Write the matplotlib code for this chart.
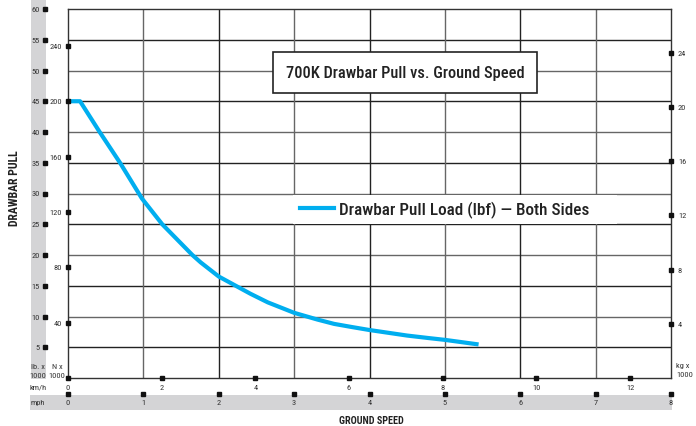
import matplotlib
matplotlib.use('Agg')
import matplotlib.pyplot as plt
import matplotlib.transforms as mtrans

plt.rcParams['font.family'] = ['Roboto Condensed', 'Liberation Sans Narrow', 'Roboto', 'DejaVu Sans']

# curve (mph, lb x 1000)
speed_mph = [0, 0.16, 0.42, 0.69, 0.98, 1.25, 1.65, 1.76, 2.0, 2.42, 2.65, 3.0, 3.31, 3.53, 3.76,
             4.0, 4.5, 4.78, 5.0, 5.42]
pull_klb = [45, 45, 40, 35, 29.2, 25, 20, 18.8, 16.5, 13.7, 12.3, 10.6, 9.5, 8.8, 8.3,
            7.8, 6.9, 6.5, 6.2, 5.5]

lb_ticks = [5, 10, 15, 20, 25, 30, 35, 40, 45, 50, 55, 60]
kn_ticks = [40, 80, 120, 160, 200, 240]
kg_ticks = [4, 8, 12, 16, 20, 24]
kmh_ticks = [2, 4, 6, 8, 10, 12]
mph_ticks = [0, 1, 2, 3, 4, 5, 6, 7, 8]

title = '700K Drawbar Pull vs. Ground Speed'
legend_label = 'Drawbar Pull Load (lbf) \u2014 Both Sides'
blue = '#00AEEF'
W, H = 696, 427

fig = plt.figure(figsize=(W / 100, H / 100), dpi=100)
ax = fig.add_axes([68 / W, 48 / H, 603 / W, 369 / H])
ax.set_xlim(0, 8)
ax.set_ylim(0, 60)

def fx(x):
    return x / W

def fy(y):
    return 1 - y / H

def ax_x(x):
    return (x - 68) / 603

def ax_y(y):
    return (379 - y) / 369

# grey bands behind the tick labels
fig.patches.append(plt.Rectangle((fx(31), fy(380)), fx(15), 380 / H, transform=fig.transFigure,
                                 facecolor='#d4d4d6', edgecolor='none', zorder=0))
fig.patches.append(plt.Rectangle((fx(30), fy(411)), fx(642), 15 / H, transform=fig.transFigure,
                                 facecolor='#d4d4d6', edgecolor='none', zorder=0))

# grid
for i, v in enumerate(range(5, 60, 5)):
    ax.axhline(v, color='#222' if i % 2 == 0 else '#666', lw=1, zorder=1)
for v in range(1, 8):
    ax.axvline(v, color='#222' if v % 2 == 0 else '#666', lw=1, zorder=1)
for s in ax.spines.values():
    s.set_color('#333')
    s.set_linewidth(1)
ax.set_xticks([])
ax.set_yticks([])

ax.plot(speed_mph, pull_klb, color=blue, lw=3, solid_joinstyle='round', zorder=3, label=legend_label)

lab = dict(fontsize=6, color='#333')
tr_ly = mtrans.blended_transform_factory(fig.transFigure, ax.transData)
tr_lx = mtrans.blended_transform_factory(ax.transData, fig.transFigure)

# lb x 1000 axis
for v in lb_ticks:
    fig.text(fx(40), v, str(v), transform=tr_ly, ha='right', va='center', **lab)
    fig.lines.append(plt.Line2D([fx(45)], [v], transform=tr_ly, marker='s', ms=2.2, color='#111'))
# N x 1000 axis
for v in kn_ticks:
    klb = v / 4.448222
    fig.text(fx(62), klb, str(v), transform=tr_ly, ha='right', va='center', **lab)
    ax.plot([0], [klb], marker='s', ms=2.2, color='#111', clip_on=False, zorder=4)
# kg x 1000 axis
for v in kg_ticks:
    klb = v * 2.20462
    fig.text(fx(678), klb, str(v), transform=tr_ly, ha='left', va='center', **lab)
    ax.plot([8], [klb], marker='s', ms=2.2, color='#111', clip_on=False, zorder=4)
# km/h axis
fig.text(fx(68), fy(388), '0', ha='center', va='center', **lab)
ax.plot([0], [0], marker='s', ms=2.2, color='#111', clip_on=False, zorder=4)
for v in kmh_ticks:
    m = v / 1.609344
    fig.text(m, fy(388), str(v), transform=tr_lx, ha='center', va='center', **lab)
    ax.plot([m], [0], marker='s', ms=2.2, color='#111', clip_on=False, zorder=4)
# mph axis
for v in mph_ticks:
    fig.text(v, fy(403), str(v), transform=tr_lx, ha='center', va='center', **lab)
    fig.lines.append(plt.Line2D([v], [fy(395)], transform=tr_lx, marker='s', ms=2.2, color='#111'))

fig.text(fx(38), fy(367), 'lb. x', ha='center', va='center', **lab)
fig.text(fx(38), fy(376), '1000', ha='center', va='center', **lab)
fig.text(fx(57), fy(367), 'N x', ha='center', va='center', **lab)
fig.text(fx(57), fy(376), '1000', ha='center', va='center', **lab)
fig.text(fx(676), fy(366), 'kg x', ha='left', va='center', **lab)
fig.text(fx(676), fy(375), '1000', ha='left', va='center', **lab)
fig.text(fx(38), fy(388), 'km/h', ha='center', va='center', **lab)
fig.text(fx(38), fy(403), 'mph', ha='center', va='center', **lab)

fig.text(fx(15), fy(188), 'DRAWBAR PULL', rotation=90, ha='center', va='center',
         fontsize=8.5, color='#222', fontweight='bold')
fig.text(fx(371), fy(421), 'GROUND SPEED', ha='center', va='center',
         fontsize=7.3, color='#222', fontweight='bold')

ax.text(ax_x(405), ax_y(73.5), title, transform=ax.transAxes, ha='center', va='center',
        fontsize=11.8, color='#222', zorder=5, fontweight='medium',
        bbox=dict(boxstyle='square,pad=0.8', facecolor='white', edgecolor='#222', lw=1.2))

# white strip behind the legend
ax.add_patch(plt.Rectangle((ax_x(293), ax_y(225)), ax_x(617) - ax_x(293), ax_y(196) - ax_y(225),
                           transform=ax.transAxes, facecolor='white', edgecolor='none', zorder=2))
leg = ax.legend(loc='center', bbox_to_anchor=(ax_x(445), ax_y(210)), frameon=False,
                prop=dict(size=12.3, weight='medium'), handlelength=2.0, handletextpad=0.3,
                borderpad=0.2)
for t in leg.get_texts():
    t.set_color('#222')

fig.savefig('out.png', dpi=100)
